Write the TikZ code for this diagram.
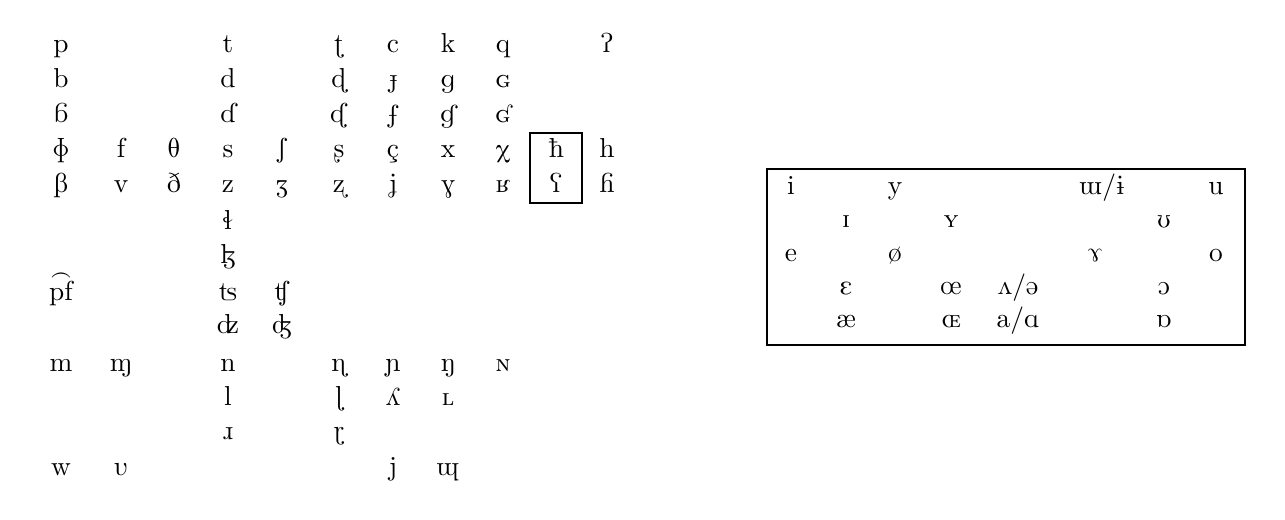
\documentclass[tikz,border=0pt]{standalone}
\usepackage{tipa}
\usepackage{tikz}

\begin{document}
\begin{tikzpicture}[x=0.365pt,y=-0.365pt,
        ipa/.style={anchor=base,inner sep=0pt}]
        \useasboundingbox (0,0) rectangle (1285,520);

        % Consonant chart
        \begin{scope}
            % Plosives
            \foreach \x/\sym [count=\k] in {61/p,228/t,339/\textrtailt,393/c,448/k,503/q,607/\textglotstop}
                \node[ipa] (vl\k) at (\x,53) {\sym};
            \foreach \x/\sym [count=\k] in {61/b,228/d,339/\textrtaild,393/\textbardotlessj,448/\textscriptg,503/\textscg}
                \node[ipa] (vd\k) at (\x,88) {\sym};
            \foreach \x/\sym [count=\k] in {61/\texthtb,228/\texthtd,339/\texthtrtaild,393/\texthtbardotlessj,448/\texthtg,503/\texthtscg}
                \node[ipa] (imp\k) at (\x,123) {\sym};

            % Fricatives
            \foreach \x/\sym [count=\k] in {61/\textphi,121/f,174/\textipa{T},228/s,282/\textesh,339/\textrtails,393/ç,448/x,503/\textchi,556/\textcrh,607/h}
                \node[ipa] (vlfr\k) at (\x,158) {\sym};
            \foreach \x/\sym [count=\k] in {61/\textbeta,121/v,174/\textipa{D},228/z,282/\textyogh,339/\textrtailz,393/\textctj,448/\textgamma,503/\textinvscr,556/\textrevglotstop,607/\texthth}
                \node[ipa] (vdfr\k) at (\x,193) {\sym};
            \node[ipa] (latfr1) at (228,230) {\textbeltl};
            \node[ipa] (latfr2) at (228,264) {\textlyoghlig};

            % Affricates
            \node[ipa] (aff1) at (61,301) {\texttoptiebar{pf}};
            \node[ipa] (aff2) at (228,301) {\texttslig};
            \node[ipa] (aff3) at (282,301) {\textteshlig};
            \node[ipa] (aff4) at (228,334) {\textdzlig};
            \node[ipa] (aff5) at (282,334) {\textdyoghlig};

            % Nasals
            \foreach \x/\sym [count=\k] in {61/m,121/\textltailm,228/n,339/\textrtailn,393/\textltailn,448/\textipa{N},503/\textscn}
                \node[ipa] (nas\k) at (\x,372) {\sym};

            % Laterals and rhotics
            \foreach \x/\sym [count=\k] in {228/l,339/\textrtaill,393/\textturny,448/\textscl}
                \node[ipa] (lat\k) at (\x,406) {\sym};
            \node[ipa] (rho1) at (228,440) {\textturnr};
            \node[ipa] (rho2) at (339,440) {\textrtailr};

            % Approximants
            \foreach \x/\sym [count=\k] in {61/w,121/\textscriptv,393/j,448/\textturnmrleg}
                \node[ipa] (app\k) at (\x,476) {\sym};

            % Pharyngeal box
            \draw (530,133) rectangle (582,203);
        \end{scope}

        % Vowel chart
        \begin{scope}
            \draw (767,169) rectangle (1245,345);

            \foreach \x/\sym [count=\k] in {791/i,895/y,1102/{\textturnm/\textbari},1216/u}
                \node[ipa] (close\k) at (\x,195) {\sym};
            \foreach \x/\sym [count=\k] in {846/\textsci,951/\textscy,1164/\textupsilon}
                \node[ipa] (nclose\k) at (\x,228) {\sym};
            \foreach \x/\sym [count=\k] in {791/e,895/\o,1095/\textramshorns,1216/o}
                \node[ipa] (cmid\k) at (\x,262) {\sym};
            \foreach \x/\sym [count=\k] in {846/\textepsilon,951/\oe,1018/{\textturnv/\textschwa},1164/\textopeno}
                \node[ipa] (omid\k) at (\x,295) {\sym};
            \foreach \x/\sym [count=\k] in {846/\ae,951/\textscoelig,1018/{a/\textscripta},1164/\textturnscripta}
                \node[ipa] (open\k) at (\x,328) {\sym};
        \end{scope}
    \end{tikzpicture}
\end{document}
